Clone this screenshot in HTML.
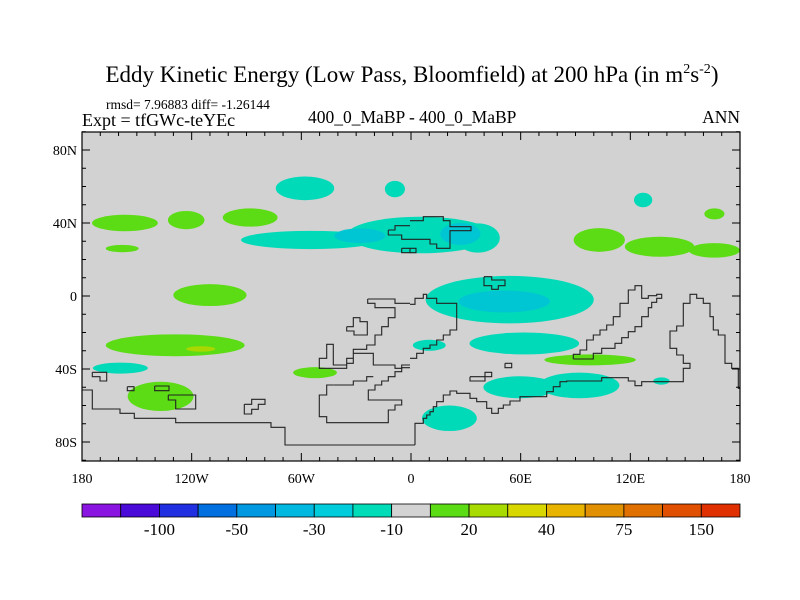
<!DOCTYPE html>
<html><head><meta charset="utf-8"><style>
body{margin:0;background:#fff;}
svg{display:block;font-family:"Liberation Serif",serif;}
</style></head><body>
<svg id="chart" width="800" height="600" viewBox="0 0 800 600">
<text x="412" y="82" font-size="23" text-anchor="middle">Eddy Kinetic Energy (Low Pass, Bloomfield) at 200 hPa (in m<tspan dy="-9" font-size="14">2</tspan><tspan dy="9">s</tspan><tspan dy="-9" font-size="14">-2</tspan><tspan dy="9">)</tspan></text>
<text x="106" y="109" font-size="13.5">rmsd= 7.96883 diff= -1.26144</text>
<text x="82" y="126" font-size="18">Expt = tfGWc-teYEc</text>
<text x="308" y="123" font-size="17.5">400_0_MaBP - 400_0_MaBP</text>
<text x="740" y="123" font-size="17.5" text-anchor="end">ANN</text>
<defs><clipPath id="pc"><rect x="82" y="132" width="658" height="329"/></clipPath></defs>
<rect x="82" y="132" width="658" height="329" fill="#d2d2d2"/>
<g id="fills" clip-path="url(#pc)"></g>
<g id="coast" clip-path="url(#pc)"></g>
<g id="axes"></g>
<g id="cbar"></g>
</svg>
<script>
const NS="http://www.w3.org/2000/svg";
const X0=82,X1=740,Y0=132,Y1=461;
function xs(lon){return X0+(lon+180)*(X1-X0)/360;}
function ys(lat){return 296-lat*1.825;}
// blob data: center lon, lat, half-widths (deg), level colour
const blobLon=[-156.5,-123,-88,-158,-110,-129,-159,-137,-52.5,103,136,166,166,98,-58,-8.8,127,-55,5,36.6,54,62,10,59.6,92,21,137,-28,27,51,-115];
const blobLat=[40,41.6,43,26,0.5,-27,-39.5,-55,-42,30.7,27,25,45,-35,59,58.6,52.6,30.7,33.4,31.8,-2,-26,-27,-50,-49,-67,-46.6,33,34,-3,-29];
const blobRx=[18,10,15,9,20,38,15,18,12,14,19,14,5.5,25,16,5.5,5,38,40,12,46,30,9,20,22,15,4.5,14,11,25,8];
const blobRy=[4.5,5,5,2,6,6,3,8,3,6.5,5.5,4,3,3,6.5,4.5,4,5,10,8,13,6,3,6,7,7,2,4,6,6,1.5];
const blobLevel=[20,20,20,20,20,20,-10,20,20,20,20,20,20,20,-10,-10,-10,-10,-10,-10,-10,-10,-10,-10,-10,-10,-10,-30,-30,-30,40];
const levelColor={"20":"#5cdc14","-10":"#00dab8","-30":"#00c6d4","40":"#a8d800"};
const fills=document.getElementById('fills');
for(let i=0;i<blobLon.length;i++){
  const e=document.createElementNS(NS,'ellipse');
  e.setAttribute('cx',xs(blobLon[i]));e.setAttribute('cy',ys(blobLat[i]));
  e.setAttribute('rx',blobRx[i]*1.828);e.setAttribute('ry',blobRy[i]*1.825);
  e.setAttribute('fill',levelColor[blobLevel[i]]);
  
  
  fills.appendChild(e);
}
// coastline outlines (zoom-crop coords: origin + z/3)
const coastSets=[
 [80,295,[[37,232,80,232,80,258,60,258,60,245,37,245,37,232],[142,275,162,275,162,287,142,287,142,275],[224,273,267,273,267,287,224,287,224,273],
  [265,300,347,300,347,342,287,342,287,315,265,315,265,300],
  [493,328,515,328,515,313,555,313,555,328,535,328,535,343,515,343,515,357,493,357,493,328],
  [800,95,820,95,820,68,840,68,840,80,862,80,862,120,822,120,822,108,800,108,800,95],
  [0,285,37,285,37,342,120,342,120,355,163,355,163,370,287,370,287,383,573,383,573,397,615,397,615,450,1000,450],
  [863,12,945,12,945,25,990,25],
  [863,12,863,25,885,25,885,38,945,38,945,68,925,68,925,95,905,95,905,120,885,120,885,150,860,150,860,163,820,163,820,190,800,190,800,210,760,210,760,148,740,148,740,190,718,190,718,220,800,220,800,205,820,205,820,175,880,175,880,210,945,210,945,220,965,220,965,210,990,210],
  [760,270,740,270,740,300,718,300,718,365,740,365,740,383,925,383,925,345,945,345,945,330,965,330,965,315,865,315,865,285,885,285,885,270,905,270,905,258,925,258,925,245,945,245,945,230,965,230,965,218,990,218],
  [760,270,820,270,820,258,860,258,860,245,880,245]]],
 [410,265,[[15,540,15,475,40,475,40,460,50,460,50,450,60,450,60,440,70,440,70,425,80,425,80,410,100,410,100,390,120,390,120,378,140,378,140,385,180,385,180,400,200,400,200,410,230,410,230,430,245,430,245,445,265,445,265,430,280,430,280,420,300,420,300,408,330,408,330,395,410,395,410,380,430,380,430,365,450,365,450,350,470,350,470,348,575,348,575,338,655,338,655,348,675,348,675,362,695,362,695,350,820,350,820,310,840,310,840,295,820,295,820,270,800,270,800,250,780,250,780,198,800,198,800,183,820,183,820,115,840,115,840,88,860,88,860,100,880,100,880,115,900,115,900,155,910,155,910,195,925,195,925,210,945,210,945,295,965,295,965,310,985,310,985,370,1005,370],
  [15,540,-40,540],
  [490,282,490,268,510,268,510,255,530,255,530,225,550,225,550,210,570,210,570,195,590,195,590,180,610,180,610,155,630,155,630,115,655,115,655,75,675,75,675,62,695,62,695,100,715,100,715,92,740,92,740,88,755,88,755,100,740,100,740,112,725,112,725,128,715,128,715,155,695,155,695,185,675,185,675,200,655,200,655,218,635,218,635,235,615,235,615,250,575,250,575,265,550,265,550,282,490,282],
  [0,118,15,118,15,100,40,100,40,88,50,88,50,100,80,100,80,115,140,115,140,195,120,195,120,210,100,210,100,225,80,225,80,240,60,240,60,250,40,250,40,265,20,265,20,280,0,280],
  [285,295,305,295,305,308,285,308,285,295],
  [180,335,225,335,225,322,245,322,245,335,225,335,225,348,180,348,180,335],
  [222,35,245,35,245,45,285,45,285,62,265,62,265,73,245,73,245,62,222,62,222,35]]],
 [80,130,[[925,300,945,300,945,287,990,287],[990,328,965,328,965,315,925,315,925,300],[965,355,990,355,990,368,965,368,965,355]]],
 [410,130,[[0,272,40,272,40,260,100,260,100,272,120,272,120,290,183,290,183,302,120,302,120,355,80,355,80,342,60,342,60,328,0,328],[0,355,18,355,18,368,0,368]]]
];
const coast=document.getElementById('coast');
coastSets.forEach(s=>{s[2].forEach(p=>{
  let pts=[];for(let i=0;i<p.length;i+=2)pts.push((s[0]+p[i]/3).toFixed(1)+','+(s[1]+p[i+1]/3).toFixed(1));
  const pl=document.createElementNS(NS,'polyline');
  pl.setAttribute('points',pts.join(' '));pl.setAttribute('fill','none');pl.setAttribute('stroke','#222');pl.setAttribute('stroke-width','1.1');
  
  
  coast.appendChild(pl);
});});
// axes
const xTickLabels=["180","120W","60W","0","60E","120E","180"];
const xTickLons=[-180,-120,-60,0,60,120,180];
const yTickLabels=["80N","40N","0","40S","80S"];
const yTickLats=[80,40,0,-40,-80];
const ax=document.getElementById('axes');
let d="";
for(let lon=-180;lon<=180;lon+=10){const x=xs(lon),L=(lon%60===0)?8:4;d+=`M${x} ${Y1}v${-L}M${x} ${Y0}v${L}`;}
for(let lat=-90;lat<=90;lat+=10){const y=ys(lat),L=(lat%40===0)?8:4;d+=`M${X0} ${y}h${L}M${X1} ${y}h${-L}`;}
const tk=document.createElementNS(NS,'path');tk.setAttribute('d',d);tk.setAttribute('stroke','#000');tk.setAttribute('stroke-width','1');


ax.appendChild(tk);
const fr=document.createElementNS(NS,'rect');fr.setAttribute('x',X0);fr.setAttribute('y',Y0);fr.setAttribute('width',X1-X0);fr.setAttribute('height',Y1-Y0);fr.setAttribute('fill','none');fr.setAttribute('stroke','#000');fr.setAttribute('stroke-width','1.2');


ax.appendChild(fr);
xTickLabels.forEach((t,i)=>{const e=document.createElementNS(NS,'text');e.setAttribute('x',xs(xTickLons[i]));e.setAttribute('y',483);e.setAttribute('font-size','14');e.setAttribute('text-anchor','middle');e.textContent=t;
 
 
 ax.appendChild(e);});
yTickLabels.forEach((t,i)=>{const e=document.createElementNS(NS,'text');e.setAttribute('x',77);e.setAttribute('y',ys(yTickLats[i])+5);e.setAttribute('font-size','14');e.setAttribute('text-anchor','end');e.textContent=t;
 
 
 ax.appendChild(e);});
// colorbar
const cbColors=["#8a14e0","#4a0ad8","#2030e0","#0070e0","#0098e0","#00b8e0","#00ccdc","#00dcb8","#d3d3d3","#5cdc14","#a8dc00","#d8d800","#e8b400","#e09000","#e07000","#e05000","#e03000"];
const cbLabels=["-100","-50","-30","-10","20","40","75","150"];
const cb=document.getElementById('cbar');const bw=(X1-X0)/cbColors.length;
cbColors.forEach((c,i)=>{const r=document.createElementNS(NS,'rect');r.setAttribute('x',X0+i*bw);r.setAttribute('y',504);r.setAttribute('width',bw);r.setAttribute('height',13);r.setAttribute('fill',c);r.setAttribute('stroke','#000');r.setAttribute('stroke-width','0.8');
 
 
 cb.appendChild(r);});
cbLabels.forEach((t,i)=>{const e=document.createElementNS(NS,'text');e.setAttribute('x',X0+(2*i+2)*bw);e.setAttribute('y',535);e.setAttribute('font-size','17');e.setAttribute('text-anchor','middle');e.textContent=t;
 
 
 cb.appendChild(e);});
</script>
</body></html>
